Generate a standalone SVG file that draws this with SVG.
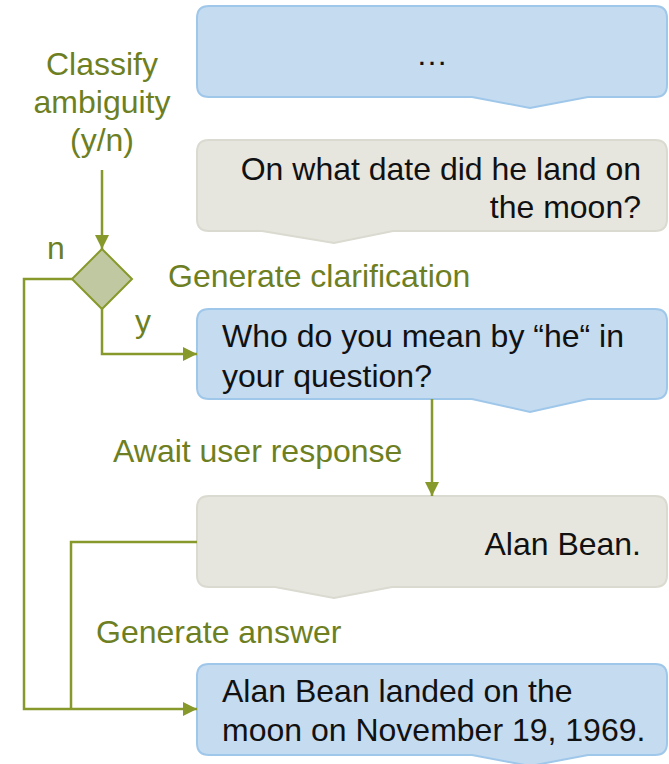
<svg xmlns="http://www.w3.org/2000/svg" width="669" height="764" viewBox="0 0 669 764">
  <style>
    .lbl { font-family: "Liberation Sans", Arial, sans-serif; font-size: 32px; fill: #6d7f22; }
    .msg { font-family: "Liberation Sans", Arial, sans-serif; font-size: 32px; fill: #111111; }
    .bot { fill: #c4dbf0; stroke: #9fc7ea; stroke-width: 2; }
    .usr { fill: #e6e6df; stroke: #dadad0; stroke-width: 2; }
    .wire { fill: none; stroke: #86992a; stroke-width: 2.5; }
  </style>
  <defs>
    <marker id="arrow" viewBox="0 0 10 10" refX="10" refY="5" markerWidth="14" markerHeight="16" markerUnits="userSpaceOnUse" orient="auto">
      <path d="M0,0 L10,5 L0,10 Z" fill="#86992a"/>
    </marker>
  </defs>

  <!-- speech bubbles: rounded box with a small downward tail -->
  <g id="bubble-prev">
    <path class="bot" d="M209,6 H655 Q667,6 667,18 V85 Q667,97 655,97 H588 L530,108 L472,97 H209 Q197,97 197,85 V18 Q197,6 209,6 Z"/>
    <text class="msg" x="432" y="65" text-anchor="middle">…</text>
  </g>

  <g id="bubble-question">
    <path class="usr" d="M209,140 H655 Q667,140 667,152 V219 Q667,231 655,231 H393 L334,243 L262,231 H209 Q197,231 197,219 V152 Q197,140 209,140 Z"/>
    <text class="msg" x="641" y="180" text-anchor="end">On what date did he land on</text>
    <text class="msg" x="641" y="218" text-anchor="end">the moon?</text>
  </g>

  <g id="bubble-clarify">
    <path class="bot" d="M209,309 H655 Q667,309 667,321 V387 Q667,399 655,399 H588 L530,412 L472,399 H209 Q197,399 197,387 V321 Q197,309 209,309 Z"/>
    <text class="msg" x="222" y="347">Who do you mean by “he“ in</text>
    <text class="msg" x="222" y="387">your question?</text>
  </g>

  <g id="bubble-reply">
    <path class="usr" d="M209,496 H655 Q667,496 667,508 V575 Q667,587 655,587 H392 L334,598 L275,587 H209 Q197,587 197,575 V508 Q197,496 209,496 Z"/>
    <text class="msg" x="641" y="555" text-anchor="end">Alan Bean.</text>
  </g>

  <g id="bubble-answer">
    <path class="bot" d="M209,664 H655 Q667,664 667,676 V743 Q667,755 655,755 H588 L530,766 L472,755 H209 Q197,755 197,743 V676 Q197,664 209,664 Z"/>
    <text class="msg" x="222" y="702">Alan Bean landed on the</text>
    <text class="msg" x="222" y="741">moon on November 19, 1969.</text>
  </g>

  <g id="decision">
    <path d="M102,249 L132,279 L102,309 L72,279 Z" fill="#c0c8a2" stroke="#86992a" stroke-width="2"/>
  </g>

  <g id="labels">
    <text class="lbl" x="102" y="75" text-anchor="middle">Classify</text>
    <text class="lbl" x="102" y="113" text-anchor="middle">ambiguity</text>
    <text class="lbl" x="102" y="151" text-anchor="middle">(y/n)</text>
    <text class="lbl" x="47" y="259">n</text>
    <text class="lbl" x="135" y="332">y</text>
    <text class="lbl" x="168" y="287">Generate clarification</text>
    <text class="lbl" x="113" y="462">Await user response</text>
    <text class="lbl" x="96" y="643">Generate answer</text>
  </g>

  <g id="connectors">
    <path class="wire" d="M102,170 V249" marker-end="url(#arrow)"/>
    <path class="wire" d="M102,309 V354 H197" marker-end="url(#arrow)"/>
    <path class="wire" d="M72,279 H24 V709 H197" marker-end="url(#arrow)"/>
    <path class="wire" d="M432,399 V496" marker-end="url(#arrow)"/>
    <path class="wire" d="M197,542 H71 V709"/>
  </g>
</svg>
